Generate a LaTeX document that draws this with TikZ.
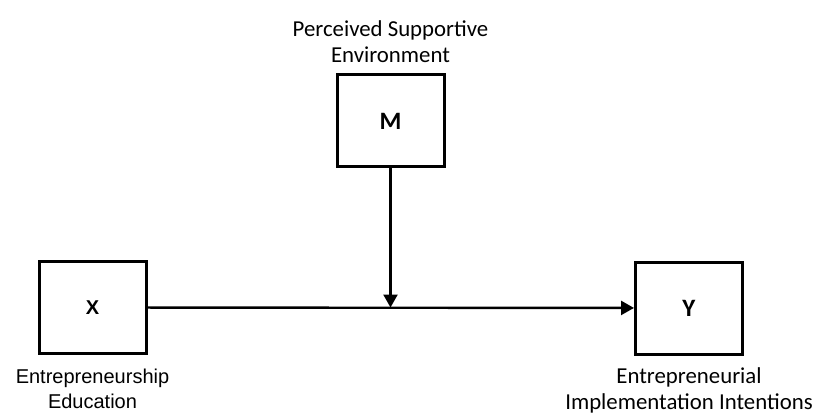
\documentclass[tikz,border=0pt]{standalone}
\usepackage{fontspec}
\setmainfont{Carlito}[BoldFont={Carlito Bold}]
\newfontfamily\arialfont{Liberation Sans}[BoldFont={Liberation Sans Bold}]
\usetikzlibrary{positioning,arrows.meta}
\tikzset{>={Triangle[length=13pt,width=14pt]}}
\tikzset{varbox/.style={draw,line width=3pt,minimum width=107pt,minimum height=92pt,inner sep=0pt,font=\fontsize{25}{28}\selectfont}}
\tikzset{varlabel/.style={align=center,inner sep=0pt,font=\fontsize{22.8}{25.5}\selectfont}}

\begin{document}
\begin{tikzpicture}[x=1pt,y=-1pt]
\useasboundingbox (0,0) rectangle (816,414);
\node[varbox] (M) at (390.5,121) {\textbf{M}};
\node[varbox,font=\arialfont\fontsize{20}{24}\selectfont] (X) at (92.5,307.5) {\textbf{X}};
\node[varbox] (Y) at (689,308) {\textbf{Y}};
\node[varlabel,above=11pt of M] (Mlab) {Perceived Supportive\\Environment};
\node[varlabel,font=\arialfont\fontsize{20}{25}\selectfont,below=14pt of X] (Xlab) {Entrepreneurship\\Education};
\node[varlabel,below=12pt of Y] (Ylab) {Entrepreneurial\\Implementation Intentions};
\coordinate (J) at (M |- X.east);
\draw[line width=2.4pt,->] (X) -- (Y);
\draw[line width=2.4pt,->] (M) -- (J);
\end{tikzpicture}
\end{document}
